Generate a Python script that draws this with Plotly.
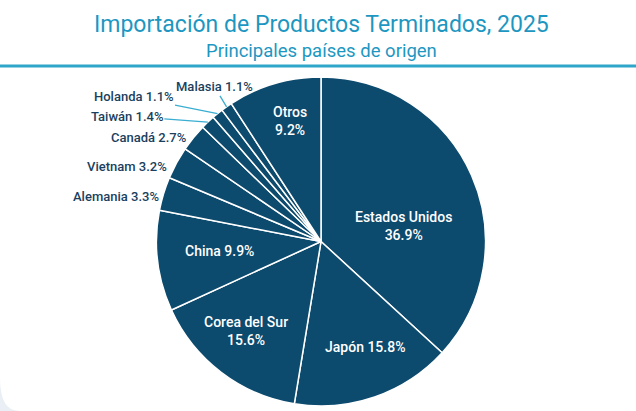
import numpy as np
import plotly.graph_objects as go

# Importación de productos terminados 2025, participación por país (%)
paises = ["Estados Unidos", "Japón", "Corea del Sur", "China", "Alemania",
          "Vietnam", "Canadá", "Taiwán", "Holanda", "Malasia", "Otros"]
porcentajes = [36.9, 15.8, 15.6, 9.9, 3.3, 3.2, 2.7, 1.4, 1.1, 1.1, 9.2]

W, H = 636, 411
AZUL = "#0c4a6e"
TITULO = "#1d97c1"
TEXTO = "#1b3f5e"

# donde queda el pie (pixeles)
cx, cy, r = 321, 241.5, 164.5
dom_x = [(cx - r) / W, (cx + r) / W]
dom_y = [(H - cy - r) / H, (H - cy + r) / H]

fig = go.Figure(go.Pie(
    labels=paises, values=porcentajes, sort=False, direction="clockwise", rotation=0,
    textinfo="none",
    marker=dict(colors=[AZUL] * len(paises), line=dict(color="white", width=1.5)),
    domain=dict(x=dom_x, y=dom_y), showlegend=False, hoverinfo="label+percent",
))

total = sum(porcentajes)
acum = np.cumsum([0] + porcentajes)
medio = (acum[:-1] + acum[1:]) / 2 / total * 360


def punto(ang, frac):
    t = np.radians(ang)
    return (cx + frac * r * np.sin(t)) / W, 1 - (cy - frac * r * np.cos(t)) / H


# etiquetas dentro: (fraccion del radio, giro respecto al centro de la rebanada, salto de linea)
dentro = {
    "Estados Unidos": (0.513, 13, True),
    "Japón": (0.695, -3.6, False),
    "Corea del Sur": (0.71, 2.6, True),
    "China": (0.62, 1.6, False),
    "Otros": (0.756, 2.1, True),
}
# etiquetas fuera: (desplazamiento x, desplazamiento y, con flecha)
fuera = {
    "Alemania": (-3, 3, False),
    "Vietnam": (-8, 4, False),
    "Canadá": (-5, 0, False),
    "Taiwán": (-81, -6, True),
    "Holanda": (-84, -17, True),
    "Malasia": (-12, -20, True),
}

anots = []
for i, p in enumerate(paises):
    pct = f"{porcentajes[i]:.1f}%"
    if p in dentro:
        frac, giro, salto = dentro[p]
        x, y = punto(medio[i] + giro, frac)
        anots.append(dict(x=x, y=y, xref="paper", yref="paper", showarrow=False,
                          text=f"{p}<br>{pct}" if salto else f"{p} {pct}",
                          xanchor="center", yanchor="middle",
                          font=dict(family="Roboto", size=14, color="white", weight=500)))
    else:
        dx, dy, flecha = fuera[p]
        x, y = punto(medio[i], 1.0)
        a = dict(x=x, y=y, xref="paper", yref="paper", text=f"{p} {pct}",
                 font=dict(family="Roboto", size=13, color=TEXTO, weight=500))
        if flecha:
            a.update(showarrow=True, ax=dx, ay=dy, arrowhead=0, arrowwidth=1.3,
                     arrowcolor="#3aaed2", standoff=0, startstandoff=0)
        else:
            a.update(showarrow=False, xanchor="right", yanchor="middle", xshift=dx, yshift=-dy)
        anots.append(a)

anots.append(dict(x=321 / W, y=1 - 24 / H, xref="paper", yref="paper", showarrow=False,
                  yanchor="middle", text="Importación de Productos Terminados, 2025",
                  font=dict(family="Roboto", size=23, color=TITULO)))
anots.append(dict(x=321 / W, y=1 - 51 / H, xref="paper", yref="paper", showarrow=False,
                  yanchor="middle", text="Principales países de origen",
                  font=dict(family="Roboto", size=18.5, color=TITULO)))

fig.update_layout(
    width=W, height=H, margin=dict(l=0, r=0, t=0, b=0),
    paper_bgcolor="#e9eff5", plot_bgcolor="white",
    annotations=anots,
    shapes=[
        # tarjeta blanca con la esquina inferior izquierda redondeada
        dict(type="path", xref="paper", yref="paper", layer="below",
             path="M 0 1 L 1 1 L 1 0 L 0.03 0 Q 0 0 0 0.08 Z",
             fillcolor="white", line=dict(width=0)),
        dict(type="line", xref="paper", yref="paper", x0=0, x1=1,
             y0=1 - 66 / H, y1=1 - 66 / H, line=dict(color="#2ea6c9", width=3)),
    ],
)

fig.write_html("out.html", config={"displayModeBar": False},
               post_script="document.body.style.margin = '0';")
